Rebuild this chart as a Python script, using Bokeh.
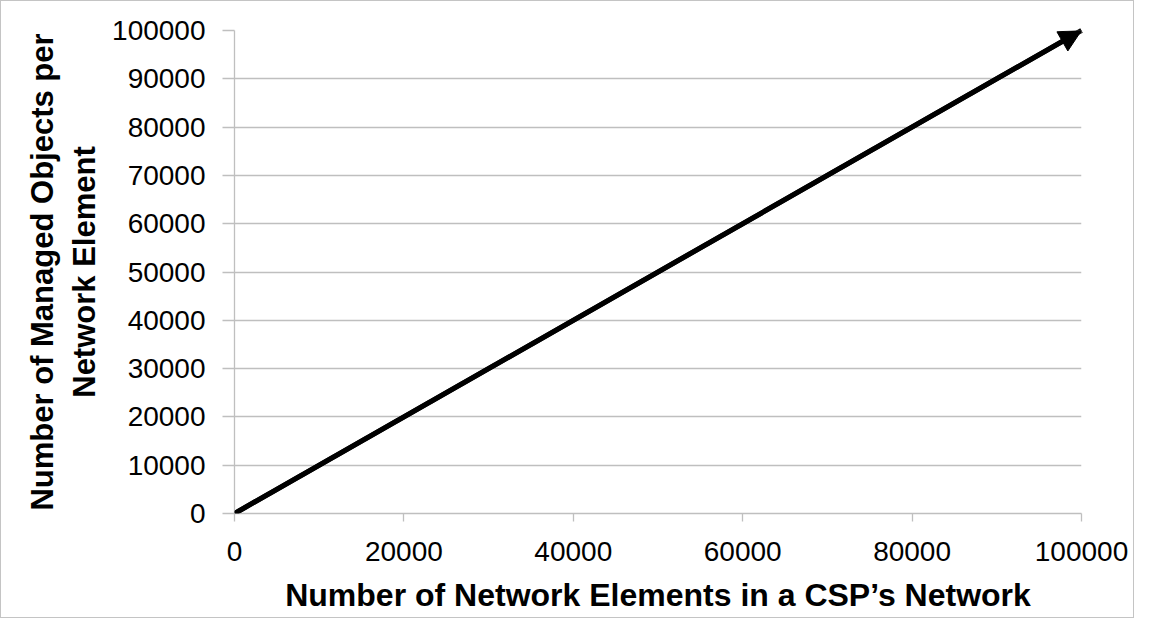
from bokeh.plotting import figure
from bokeh.models import FixedTicker, BasicTickFormatter, Arrow, NormalHead, Range1d
from bokeh.embed import file_html
from bokeh.resources import INLINE

# data
network_elements = [0, 100000]
managed_objects = [0, 100000]
x_ticks = [0, 20000, 40000, 60000, 80000, 100000]
y_ticks = [0, 10000, 20000, 30000, 40000, 50000, 60000, 70000, 80000, 90000, 100000]
x_title = "Number of Network Elements in a CSP\u2019s Network"
y_title = "Number of Managed Objects per\nNetwork Element"

W, H = 1134, 618
p = figure(width=W, height=H, output_backend="svg", toolbar_location=None,
           x_range=Range1d(0, 100000), y_range=Range1d(0, 100000),
           min_border_left=233, min_border_right=54, min_border_top=29, min_border_bottom=106,
           styles={"border": "1px solid #c4c4c4"})
p.outline_line_color = None
p.background_fill_color = "white"
p.border_fill_color = "white"

GRID = "#bfbfbf"
FONT = "Liberation Sans"

p.xgrid.grid_line_color = None
p.ygrid.grid_line_color = GRID
p.ygrid.grid_line_width = 1.3
p.ygrid.ticker = FixedTicker(ticks=y_ticks)

for ax in (p.xaxis[0], p.yaxis[0]):
    ax.axis_line_color = GRID
    ax.axis_line_width = 1.3
    ax.major_tick_line_color = GRID
    ax.major_tick_line_width = 1.3
    ax.minor_tick_line_color = None
    ax.major_tick_in = 0
    ax.formatter = BasicTickFormatter(use_scientific=False)
    ax.major_label_text_font = FONT
    ax.major_label_text_font_size = "28px"
    ax.major_label_text_color = "black"
    ax.axis_label_text_font = FONT
    ax.axis_label_text_font_style = "bold"
    ax.axis_label_text_color = "black"

p.xaxis[0].axis_label_text_font_size = "32px"
p.yaxis[0].axis_label_text_font_size = "31px"
p.xaxis[0].ticker = FixedTicker(ticks=x_ticks)
p.yaxis[0].ticker = FixedTicker(ticks=y_ticks)
p.xaxis[0].major_tick_out = 8
p.yaxis[0].major_tick_out = 12
p.xaxis[0].major_label_standoff = 20
p.yaxis[0].major_label_standoff = 17
p.xaxis[0].axis_label = x_title
p.yaxis[0].axis_label = y_title
p.xaxis[0].axis_label_standoff = 13
p.yaxis[0].axis_label_standoff = 7

p.line(network_elements, managed_objects, line_color="black", line_width=5)
p.add_layout(Arrow(end=NormalHead(size=22, fill_color="black", line_color="black"),
                   x_start=network_elements[0], y_start=managed_objects[0],
                   x_end=network_elements[-1], y_end=managed_objects[-1],
                   line_color="black", line_width=5))

open("out.html", "w").write(file_html(p, INLINE))
